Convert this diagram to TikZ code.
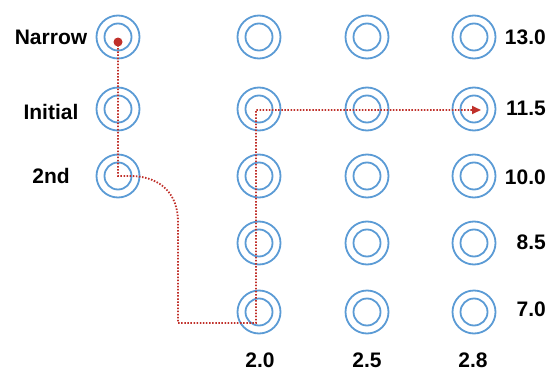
\documentclass[tikz,border=0pt]{standalone}
\usepackage{fontspec}
\setmainfont{Liberation Sans}
\usetikzlibrary{arrows.meta}
\definecolor{ringblue}{HTML}{5B9BD5}
\definecolor{pathred}{HTML}{C0302A}
\begin{document}
\begin{tikzpicture}[x=1pt,y=-1pt,
  ring/.style={circle, draw=ringblue, line width=1.8pt, minimum size=43pt, inner sep=0pt,
    path picture={\draw[ringblue,line width=1.8pt] (path picture bounding box.center) circle (13.5pt);}},
  lbl/.style={inner sep=0pt, font=\fontsize{21}{25}\selectfont\bfseries},
  redpath/.style={draw=pathred, line width=1.8pt, dash pattern=on 1.5pt off 1.6pt},
  reddot/.style={circle, fill=pathred, inner sep=0pt, minimum size=9pt}]
\useasboundingbox (0,0) rectangle (557,372);
% column 1
\node[ring] (c11) at (118,37) {};
\node[ring] (c12) at (118,109) {};
\node[ring] (c13) at (118,176) {};
% columns 2-4
\foreach \c/\x in {2/259,3/367,4/474}{
  \foreach \r/\y in {1/37,2/109,3/176,4/243,5/312}{
    \node[ring] (c\c\r) at (\x,\y) {};
  }
}
% left labels
\node[lbl] (lnarrow) at (51,37.5) {Narrow};
\node[lbl] (linitial) at (51,112) {Initial};
\node[lbl] (l2nd) at (51,176) {2nd};
% right labels
\node[lbl, anchor=east] (r1) at (546,37) {13.0};
\node[lbl, anchor=east] (r2) at (546,108) {11.5};
\node[lbl, anchor=east] (r3) at (546,177) {10.0};
\node[lbl, anchor=east] (r4) at (546,242) {8.5};
\node[lbl, anchor=east] (r5) at (546,309) {7.0};
% bottom labels
\node[lbl] (b2) at (260,360) {2.0};
\node[lbl] (b3) at (367,360) {2.5};
\node[lbl] (b4) at (473,360) {2.8};
% red path
\node[reddot] (dot) at (118,42) {};
\coordinate (p1) at (118,176);
\coordinate (p2) at (132,176);
\coordinate (p3) at (178,222);
\coordinate (p4) at (178,323);
\coordinate (p5) at (256,323);
\coordinate (p6) at (256,110);
\coordinate (p7) at (481,110);
\draw[redpath, -{Triangle[length=9pt,width=8pt]}]
  (dot.center) -- (p1) -- (p2) .. controls (162,177) and (178,195) .. (p3)
  -- (p4) -- (p5) -- (p6) -- (p7);
\end{tikzpicture}
\end{document}
